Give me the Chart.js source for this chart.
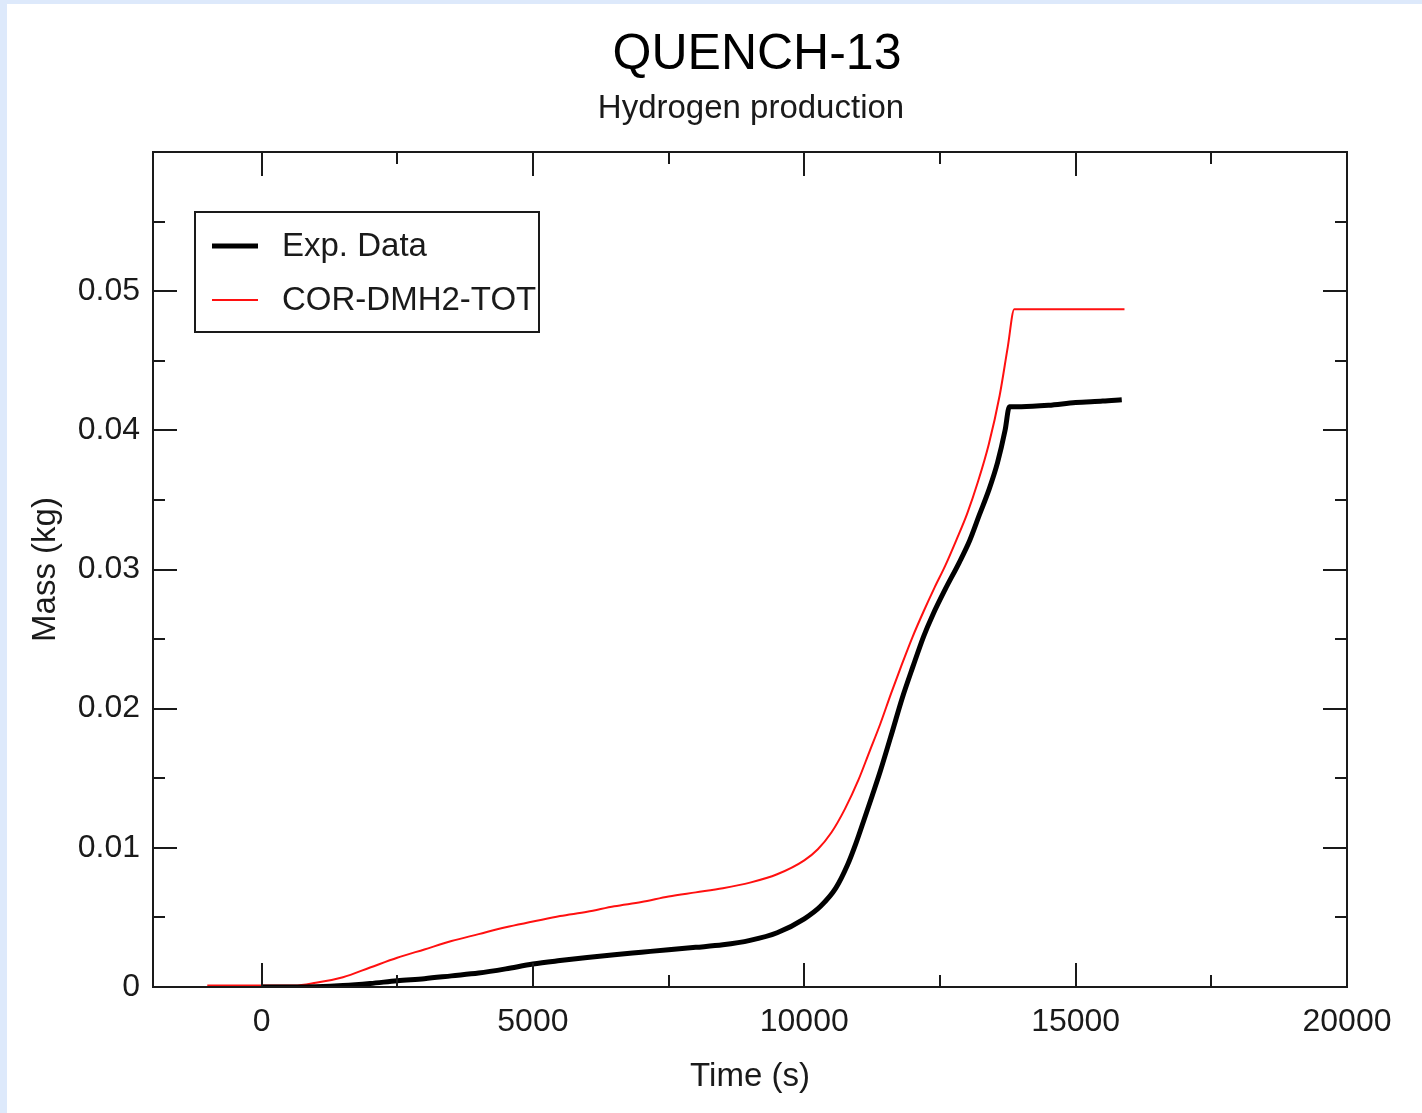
<!DOCTYPE html>
<html><head><meta charset="utf-8">
<script src="https://cdn.jsdelivr.net/npm/chart.js@4.4.0/dist/chart.umd.min.js"></script>
<style>html,body{margin:0;padding:0;background:#fff;}canvas{display:block;}</style>
</head><body>
<canvas id="c" width="1422" height="1113"></canvas>
<script>
// ---- data ----
const expTime = [0, 500, 1000, 1500, 2000, 2500, 3000, 3500, 4000, 4500, 5000, 5500, 6000, 6500, 7000, 7500, 8000, 8500, 9000, 9500, 10000, 10300, 10580, 10800, 10950, 11100, 11256, 11400, 11625, 11800, 12000, 12200, 12363, 12600, 12855, 13050, 13224, 13400, 13562, 13700, 13780, 14000, 14500, 15000, 15500, 15850];
const expMass = [0, 0, 0.00002, 0.0001, 0.00025, 0.00045, 0.0006, 0.0008, 0.001, 0.0013, 0.00165, 0.0019, 0.00212, 0.00232, 0.0025, 0.00268, 0.00285, 0.00303, 0.00335, 0.0039, 0.0049, 0.0058, 0.0071, 0.0088, 0.0103, 0.012, 0.0138, 0.0155, 0.0184, 0.0207, 0.0230, 0.0252, 0.0267, 0.0286, 0.0305, 0.0321, 0.0339, 0.0357, 0.0377, 0.04, 0.0417, 0.0417, 0.0418, 0.042, 0.0421, 0.0422];
const corTime = [-1000, 0, 600, 1000, 1500, 2000, 2500, 3000, 3500, 4000, 4500, 5000, 5500, 6000, 6500, 7000, 7500, 8000, 8500, 9000, 9500, 10000, 10250, 10500, 10750, 11000, 11200, 11400, 11600, 11800, 12000, 12200, 12400, 12600, 12800, 13000, 13200, 13400, 13600, 13750, 13870, 14500, 15900];
const corMass = [0.0001, 0.0001, 0.0001, 0.0003, 0.0007, 0.0014, 0.0021, 0.0027, 0.0033, 0.0038, 0.0043, 0.0047, 0.0051, 0.0054, 0.0058, 0.0061, 0.0065, 0.0068, 0.0071, 0.0075, 0.0081, 0.0091, 0.0099, 0.0111, 0.0128, 0.0149, 0.0169, 0.0189, 0.0211, 0.0232, 0.0252, 0.027, 0.0287, 0.0303, 0.0321, 0.034, 0.0363, 0.039, 0.0425, 0.046, 0.0487, 0.0487, 0.0487];
const seriesLabels = ['Exp. Data', 'COR-DMH2-TOT'];
const xMajorTicks = [0, 5000, 10000, 15000, 20000];
const xMinorTicks = [2500, 7500, 12500, 17500];
const yMajorTicks = [0, 0.01, 0.02, 0.03, 0.04, 0.05];
const yMinorTicks = [0.005, 0.015, 0.025, 0.035, 0.045, 0.055];
const titleText = 'QUENCH-13';
const subtitleText = 'Hydrogen production';
const xTitle = 'Time (s)';
const yTitle = 'Mass (kg)';

// ---- styles ----
const FONT = '"Liberation Sans", Arial, Helvetica, sans-serif';
const INK = '#1a1a1a';

const toXY = (xs, ys) => xs.map((v, i) => ({x: v, y: ys[i]}));

const decor = {
  id: 'decor',
  beforeDraw(chart) {
    const ctx = chart.ctx;
    ctx.save();
    ctx.fillStyle = '#ffffff';
    ctx.fillRect(0, 0, chart.width, chart.height);
    ctx.fillStyle = '#dde9fb';
    ctx.fillRect(0, 0, chart.width, 4);
    ctx.fillRect(0, 0, 7, chart.height);
    ctx.restore();
  },
  afterDatasetsDraw(chart) {
    const {ctx, chartArea: a, scales: {x, y}} = chart;
    ctx.save();
    ctx.strokeStyle = INK;
    ctx.lineWidth = 2;
    ctx.beginPath();
    const xt = (vals, len) => vals.forEach(v => {
      const p = Math.round(x.getPixelForValue(v));
      ctx.moveTo(p, a.bottom); ctx.lineTo(p, a.bottom - len);
      ctx.moveTo(p, a.top); ctx.lineTo(p, a.top + len);
    });
    const yt = (vals, len) => vals.forEach(v => {
      const p = Math.round(y.getPixelForValue(v));
      ctx.moveTo(a.left, p); ctx.lineTo(a.left + len, p);
      ctx.moveTo(a.right, p); ctx.lineTo(a.right - len, p);
    });
    xt(xMajorTicks, 24); xt(xMinorTicks, 12);
    yt(yMajorTicks, 24); yt(yMinorTicks, 12);
    ctx.stroke();
    ctx.strokeRect(a.left, a.top, a.right - a.left, a.bottom - a.top);

    // legend box
    const L = {x: 195, y: 212, w: 344, h: 120};
    ctx.fillStyle = '#fff';
    ctx.fillRect(L.x, L.y, L.w, L.h);
    ctx.strokeRect(L.x, L.y, L.w, L.h);
    const rows = [246, 300];
    chart.data.datasets.forEach((ds, i) => {
      ctx.beginPath();
      ctx.strokeStyle = ds.borderColor;
      ctx.lineWidth = ds.borderWidth;
      ctx.moveTo(212, rows[i]); ctx.lineTo(258, rows[i]);
      ctx.stroke();
      ctx.fillStyle = INK;
      ctx.font = '33px ' + FONT;
      ctx.textAlign = 'left';
      ctx.textBaseline = 'middle';
      ctx.fillText(ds.label, 282, rows[i] + 1);
    });

    // titles
    ctx.fillStyle = '#000';
    ctx.textAlign = 'center';
    ctx.textBaseline = 'alphabetic';
    ctx.font = '50px ' + FONT;
    ctx.fillText(titleText, 757, 69);
    ctx.fillStyle = INK;
    ctx.font = '33px ' + FONT;
    ctx.fillText(subtitleText, 751, 118);
    ctx.restore();
  }
};

new Chart(document.getElementById('c'), {
  type: 'line',
  data: {
    datasets: [
      {label: seriesLabels[0], data: toXY(expTime, expMass), borderColor: '#000000', borderWidth: 5, pointRadius: 0, cubicInterpolationMode: 'monotone', fill: false},
      {label: seriesLabels[1], data: toXY(corTime, corMass), borderColor: '#ff1010', borderWidth: 2, pointRadius: 0, cubicInterpolationMode: 'monotone', fill: false}
    ]
  },
  options: {
    responsive: false,
    animation: false,
    devicePixelRatio: 1,
    layout: {padding: {top: 152, left: 0, right: 75, bottom: 0}},
    plugins: {legend: {display: false}, title: {display: false}, tooltip: {enabled: false}},
    scales: {
      x: {
        type: 'linear', min: -2000, max: 20000,
        afterBuildTicks: s => { s.ticks = xMajorTicks.map(v => ({value: v})); },
        afterFit: s => { s.height = 126; },
        grid: {display: false, drawTicks: false},
        border: {display: false},
        ticks: {font: {size: 32, family: FONT}, color: INK, padding: 16, maxRotation: 0, autoSkip: false,
          callback: v => String(v)},
        title: {display: true, text: xTitle, font: {size: 33, family: FONT}, color: INK, padding: {top: 0, bottom: 16}}
      },
      y: {
        type: 'linear', min: 0, max: 0.06,
        afterBuildTicks: s => { s.ticks = yMajorTicks.map(v => ({value: v})); },
        afterFit: s => { s.width = 153; },
        grid: {display: false, drawTicks: false},
        border: {display: false},
        ticks: {font: {size: 32, family: FONT}, color: INK, padding: 13, autoSkip: false,
          callback: v => (v === 0 ? '0' : String(Math.round(v * 100) / 100))},
        title: {display: true, text: yTitle, font: {size: 33, family: FONT}, color: INK, padding: {top: 26, bottom: 0}}
      }
    }
  },
  plugins: [decor]
});
</script>
</body></html>
